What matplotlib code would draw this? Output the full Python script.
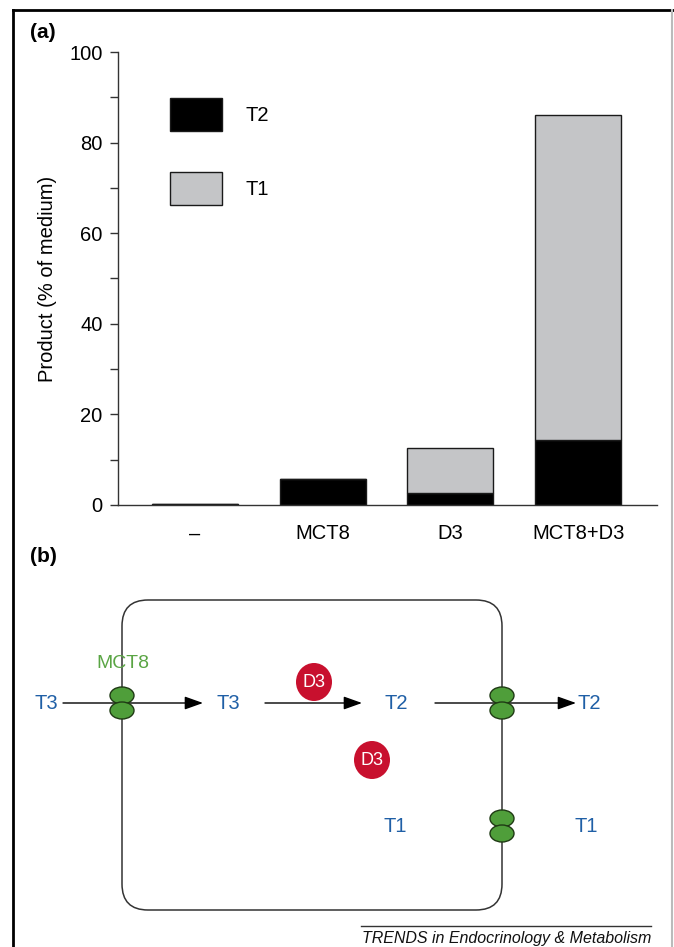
import matplotlib
matplotlib.use("Agg")
import matplotlib.pyplot as plt
from matplotlib.patches import Ellipse, FancyBboxPatch
from matplotlib.lines import Line2D

plt.rcParams['font.family'] = ['Liberation Sans', 'DejaVu Sans']

# ---- data (panel a) ----
categories = ['\u2013', 'MCT8', 'D3', 'MCT8+D3']
t2_values = [0.3, 5.7, 2.6, 14.3]
t1_values = [0.0, 0.0, 10.0, 71.8]
y_ticks = [0, 20, 40, 60, 80, 100]
y_minor = [10, 30, 50, 70, 90]
series_labels = ['T2', 'T1']

W, H = 674, 947
fig = plt.figure(figsize=(W / 100, H / 100), dpi=100)

def fx(px):
    return px / W

def fy(py):
    return 1 - py / H

# ---- panel a ----
ax = fig.add_axes([fx(118), fy(505), fx(657) - fx(118), fy(52) - fy(505)])
x = list(range(len(categories)))
gray = '#c4c5c7'
edge = '#1a1a1a'
b2 = ax.bar(x, t2_values, width=0.673, color='black', edgecolor=edge, linewidth=1.0,
            label=series_labels[0])
b1 = ax.bar(x, t1_values, width=0.673, bottom=t2_values, color=gray, edgecolor=edge,
            linewidth=1.0, label=series_labels[1])
ax.set_xlim(-0.603, 3.618)
ax.set_ylim(0, 100)
ax.set_yticks(y_ticks)
ax.set_yticks(y_minor, minor=True)
ax.set_xticks(x)
ax.set_xticklabels(categories)
ax.tick_params(axis='x', length=0, pad=14, labelsize=14.5)
ax.tick_params(axis='y', which='both', length=6, width=1.0, direction='out', pad=5,
               labelsize=14.5, color='#333333')
for s in ['top', 'right']:
    ax.spines[s].set_visible(False)
for s in ['left', 'bottom']:
    ax.spines[s].set_linewidth(1.0)
    ax.spines[s].set_color('#333333')
ax.set_ylabel('Product (% of medium)', fontsize=14.5, labelpad=9)

fs = 14.5 * 100 / 72
hh = (33 / fs - 0.245) / 0.65
leg = ax.legend(handles=[b2, b1], loc='upper left',
                bbox_to_anchor=(fx(170), fy(98)), bbox_transform=fig.transFigure,
                frameon=False, fontsize=14.5, borderpad=0, borderaxespad=0,
                handlelength=52 / fs, handleheight=hh, labelspacing=41.5 / fs,
                handletextpad=23 / fs)

fig.text(fx(30), fy(32), '(a)', fontsize=15, fontweight='bold', va='center', ha='left')
fig.text(fx(30), fy(557), '(b)', fontsize=15, fontweight='bold', va='center', ha='left')

# ---- panel b (diagram, pixel coordinates) ----
axb = fig.add_axes([0, 0, 1, 1])
axb.set_xlim(0, W)
axb.set_ylim(H, 0)
axb.axis('off')
axb.patch.set_alpha(0)

# figure border
axb.add_line(Line2D([13, W], [10, 10], color='black', lw=2.0))
axb.add_line(Line2D([13, 13], [10, H], color='black', lw=2.0))
axb.add_line(Line2D([672, 672], [10, H], color='#bbbbbb', lw=1.5))

# cell
cell = FancyBboxPatch((122, 600), 502 - 122, 910 - 600,
                      boxstyle='round,pad=0,rounding_size=26',
                      fill=False, edgecolor='#333333', lw=1.1)
axb.add_patch(cell)

blue = '#1f5fa6'
green_txt = '#5aa544'
green = '#4f9e3a'
red = '#c8102e'
tfs = 14.5

arrow_kw = dict(arrowstyle='-|>,head_length=0.7,head_width=0.25', color='black',
                lw=1.0, mutation_scale=16, shrinkA=0, shrinkB=0)

def arrow(x0, x1, y):
    axb.annotate('', xy=(x1, y), xytext=(x0, y), arrowprops=arrow_kw)

arrow(63, 203, 703)
arrow(265, 362, 703)
arrow(435, 576, 703)

def transporter(cx, cy):
    for dy in (-7.5, 7.5):
        axb.add_patch(Ellipse((cx, cy + dy), 24, 17, facecolor=green,
                              edgecolor='#1f3a14', lw=1.0, zorder=5))

transporter(122, 703)
transporter(502, 703)
transporter(502, 826)

def label(xc, yc, s, color=blue, ha='center', size=tfs):
    axb.text(xc, yc, s, color=color, fontsize=size, ha=ha, va='center')

label(58, 703, 'T3', ha='right')
label(123, 663, 'MCT8', color=green_txt, size=14)
label(228, 703, 'T3')
label(396, 703, 'T2')
label(578, 703, 'T2', ha='left')
label(395, 826, 'T1')
label(586, 826, 'T1')

def enzyme(cx, cy):
    axb.add_patch(Ellipse((cx, cy), 36, 38, facecolor=red, edgecolor='none', zorder=5))
    axb.text(cx, cy, 'D3', color='white', fontsize=13, ha='center', va='center', zorder=6)

enzyme(314, 682)
enzyme(372, 760)

# credit
axb.add_line(Line2D([361, 651], [926, 926], color='#333333', lw=1.0))
axb.text(651, 938, 'TRENDS in Endocrinology & Metabolism', fontsize=11.5, style='italic',
         ha='right', va='center', color='#111111')

fig.savefig('out.png', dpi=100)
